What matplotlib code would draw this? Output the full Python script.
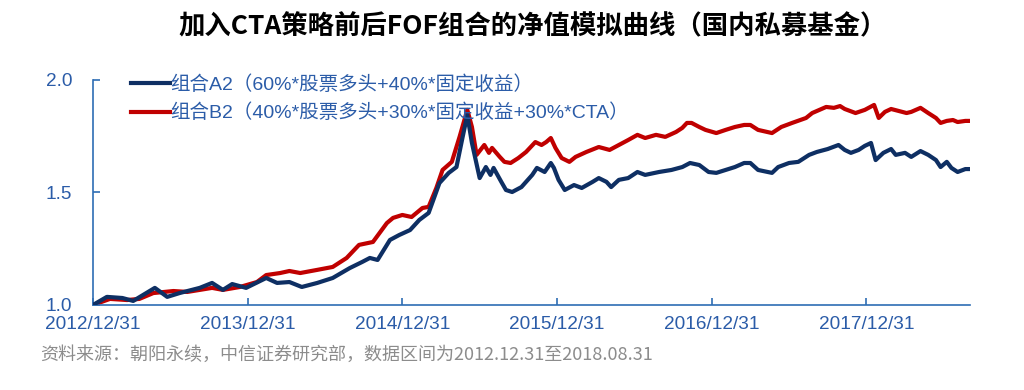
import matplotlib
matplotlib.use("Agg")
import matplotlib.pyplot as plt

plt.rcParams['font.family'] = ['Liberation Sans', 'Noto Sans CJK SC']

title = "加入CTA策略前后FOF组合的净值模拟曲线（国内私募基金）"
source = "资料来源：朝阳永续，中信证券研究部，数据区间为2012.12.31至2018.08.31"
label_a = "组合A2（60%*股票多头+40%*固定收益）"
label_b = "组合B2（40%*股票多头+30%*固定收益+30%*CTA）"
xtick_pos = [0, 1, 2, 3, 4, 5]
xtick_labels = ["2012/12/31", "2013/12/31", "2014/12/31",
                "2015/12/31", "2016/12/31", "2017/12/31"]
x_end = 5.667  # 2018/08/31

# years since 2012/12/31, net value
t_a = [0.0, 0.09, 0.19, 0.26, 0.40, 0.48, 0.56, 0.69, 0.77, 0.84, 0.90, 0.99,
       1.12, 1.19, 1.27, 1.35, 1.45, 1.55, 1.66, 1.74, 1.79, 1.84, 1.92, 1.98,
       2.05, 2.11, 2.17, 2.24, 2.30, 2.35, 2.39, 2.42, 2.45, 2.50, 2.54, 2.57,
       2.59, 2.64, 2.67, 2.71, 2.77, 2.84, 2.87, 2.92, 2.96, 2.98, 3.01, 3.05,
       3.11, 3.16, 3.23, 3.27, 3.32, 3.35, 3.40, 3.46, 3.52, 3.57, 3.66, 3.74,
       3.81, 3.86, 3.92, 3.98, 4.03, 4.09, 4.15, 4.21, 4.25, 4.30, 4.39, 4.43,
       4.50, 4.56, 4.63, 4.68, 4.75, 4.82, 4.86, 4.90, 4.95, 4.99, 5.03, 5.06,
       5.11, 5.16, 5.19, 5.25, 5.29, 5.35, 5.40, 5.45, 5.48, 5.52, 5.55, 5.59,
       5.64, 5.667]
v_a = [1.000, 1.036, 1.031, 1.018, 1.076, 1.036, 1.053, 1.076, 1.098, 1.067,
       1.093, 1.076, 1.120, 1.098, 1.102, 1.080, 1.098, 1.120, 1.164, 1.191,
       1.209, 1.200, 1.289, 1.311, 1.333, 1.378, 1.409, 1.542, 1.587, 1.613,
       1.747, 1.844, 1.720, 1.564, 1.613, 1.578, 1.609, 1.547, 1.511, 1.502,
       1.524, 1.578, 1.609, 1.591, 1.631, 1.609, 1.556, 1.511, 1.533, 1.520,
       1.547, 1.564, 1.547, 1.524, 1.556, 1.564, 1.591, 1.578, 1.591, 1.600,
       1.613, 1.631, 1.622, 1.591, 1.587, 1.600, 1.613, 1.631, 1.631, 1.600,
       1.587, 1.613, 1.631, 1.636, 1.667, 1.680, 1.693, 1.711, 1.689, 1.676,
       1.689, 1.707, 1.720, 1.644, 1.676, 1.693, 1.667, 1.676, 1.658, 1.684,
       1.667, 1.644, 1.613, 1.636, 1.609, 1.591, 1.604, 1.604]

t_b = [0.0, 0.11, 0.22, 0.30, 0.39, 0.52, 0.61, 0.69, 0.77, 0.84, 0.95, 1.06,
       1.12, 1.21, 1.27, 1.34, 1.45, 1.55, 1.64, 1.72, 1.81, 1.90, 1.94, 2.00,
       2.06, 2.13, 2.17, 2.22, 2.26, 2.32, 2.37, 2.42, 2.45, 2.48, 2.53, 2.56,
       2.58, 2.63, 2.66, 2.70, 2.75, 2.80, 2.86, 2.90, 2.93, 2.96, 2.99, 3.03,
       3.08, 3.12, 3.19, 3.27, 3.34, 3.40, 3.46, 3.52, 3.57, 3.64, 3.70, 3.77,
       3.81, 3.84, 3.87, 3.92, 3.96, 4.03, 4.09, 4.15, 4.21, 4.25, 4.30, 4.39,
       4.45, 4.52, 4.61, 4.65, 4.74, 4.79, 4.83, 4.86, 4.93, 4.99, 5.05, 5.08,
       5.12, 5.16, 5.21, 5.26, 5.29, 5.35, 5.40, 5.45, 5.48, 5.52, 5.56, 5.59,
       5.64, 5.667]
v_b = [1.000, 1.027, 1.022, 1.027, 1.053, 1.062, 1.058, 1.067, 1.076, 1.067,
       1.080, 1.102, 1.133, 1.142, 1.151, 1.142, 1.156, 1.169, 1.209, 1.267,
       1.280, 1.364, 1.387, 1.400, 1.391, 1.431, 1.436, 1.520, 1.600, 1.636,
       1.747, 1.867, 1.791, 1.667, 1.711, 1.676, 1.698, 1.658, 1.636, 1.631,
       1.653, 1.680, 1.724, 1.711, 1.724, 1.742, 1.698, 1.653, 1.636, 1.658,
       1.680, 1.702, 1.689, 1.711, 1.733, 1.756, 1.742, 1.756, 1.747, 1.769,
       1.787, 1.809, 1.809, 1.791, 1.778, 1.764, 1.778, 1.791, 1.800, 1.800,
       1.778, 1.764, 1.791, 1.809, 1.831, 1.853, 1.880, 1.876, 1.884, 1.871,
       1.853, 1.867, 1.889, 1.831, 1.858, 1.871, 1.862, 1.853, 1.858, 1.876,
       1.853, 1.831, 1.809, 1.818, 1.822, 1.813, 1.818, 1.818]

blue = '#0E2F63'
red = '#C00000'
axis_color = '#2E6DB4'
text_blue = '#2B5CA8'

fig = plt.figure(figsize=(10.24, 3.9), dpi=100)
ax = fig.add_axes([0.0908, 0.218, 0.856, 0.577])

ax.plot(t_a, v_a, color=blue, lw=3.0, label=label_a, zorder=3)
ax.plot(t_b, v_b, color=red, lw=3.0, label=label_b, zorder=2)

ax.set_xlim(0, x_end)
ax.set_ylim(1.0, 2.0)
ax.set_yticks([1.0, 1.5, 2.0])
ax.set_yticklabels(["1.0", "1.5", "2.0"])
ax.set_xticks(xtick_pos)
ax.set_xticklabels(xtick_labels)

for s in ['top', 'right']:
    ax.spines[s].set_visible(False)
for s in ['left', 'bottom']:
    ax.spines[s].set_color(axis_color)
    ax.spines[s].set_linewidth(1.2)
ax.tick_params(axis='both', direction='in', length=5, width=1.2,
               color=axis_color, labelcolor=text_blue, labelsize=13.7)
ax.tick_params(axis='y', pad=15)
ax.tick_params(axis='x', pad=8)

leg = ax.legend(loc='upper left', bbox_to_anchor=(0.043, 1.02), frameon=False,
                fontsize=14, handlelength=2.0, handletextpad=0.05,
                borderpad=0, borderaxespad=0, labelspacing=0.5)
for txt in leg.get_texts():
    txt.set_color(text_blue)

fig.text(0.52, 0.93, title, ha='center', va='center', fontsize=19,
         fontweight='bold', family=['Noto Sans CJK SC'])
fig.text(0.039, 0.09, source, ha='left', va='center', fontsize=13,
         color='#8C8C8C', family=['Noto Sans CJK SC'])

fig.savefig('out.png', dpi=100)
